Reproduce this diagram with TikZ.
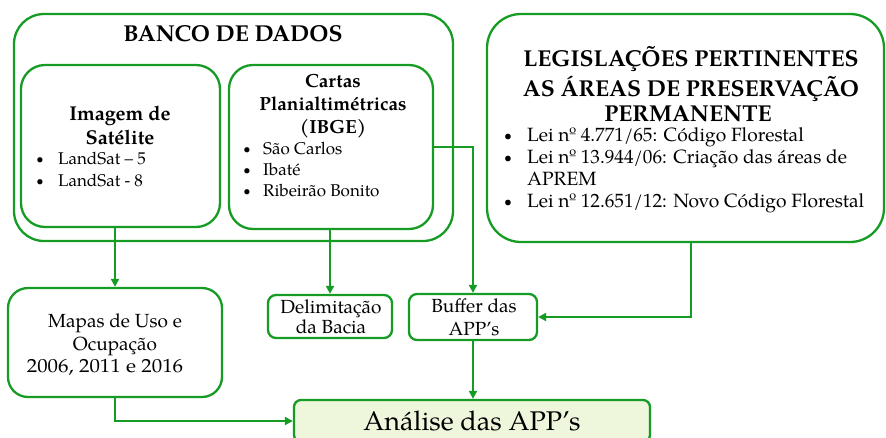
\documentclass[tikz,border=0pt]{standalone}
\usepackage{fontspec}
\usepackage{graphicx}
\setmainfont{TeX Gyre Pagella}
\usetikzlibrary{arrows.meta}
\definecolor{gline}{RGB}{22,156,36}
\definecolor{gfill}{RGB}{238,246,220}
\newcommand\fsz[1]{\fontsize{#1}{#1}\selectfont}
\tikzset{
  box/.style={draw=gline, line width=2.3pt, rectangle, inner sep=0pt},
  arr/.style={draw=gline, line width=2.3pt, -{Triangle[length=8pt,width=8pt]}},
  lbl/.style={anchor=base, inner sep=0pt, text=black},
  lft/.style={anchor=base west, inner sep=0pt, text=black},
  bul/.style={anchor=base, inner sep=0pt, text=black},
}
\begin{document}
\begin{tikzpicture}[x=1pt,y=1pt]
\useasboundingbox (0,0) rectangle (886,-437);
\clip (0,0) rectangle (886,-437);
% boxes
\node[box, rounded corners=30pt, minimum width=439pt, minimum height=227pt] (banco) at (233.5,-127.5) {};
\node[box, rounded corners=24pt, minimum width=199pt, minimum height=162pt] (img) at (120.5,-146) {};
\node[box, rounded corners=24pt, minimum width=204pt, minimum height=164pt] (cartas) at (331,-147) {};
\node[box, rounded corners=34pt, minimum width=397pt, minimum height=228pt] (leg) at (685.5,-128) {};
\node[box, rounded corners=20pt, minimum width=214pt, minimum height=109pt] (mapas) at (115,-342.5) {};
\node[box, rounded corners=8pt, minimum width=124pt, minimum height=43pt] (delim) at (330,-316.5) {};
\node[box, rounded corners=8pt, minimum width=128pt, minimum height=46pt] (buffer) at (473,-317) {};
\node[box, fill=gfill, rounded corners=7pt, minimum width=356pt, minimum height=42pt] (analise) at (472,-421) {};
% texts
\node[lbl, font=\fsz{23}\bfseries] (tbanco) at (233,-41) {BANCO DE DADOS};
\node[lbl, font=\fsz{20}\bfseries] (timg1) at (120,-120) {Imagem de};
\node[lbl, font=\fsz{20}\bfseries] (timg2) at (120,-144) {Satélite};
\node[bul, font=\fsz{13}] (bimg1) at (40,-163) {•};
\node[lft, font=\fsz{17}] (limg1) at (58,-164) {LandSat – 5};
\node[bul, font=\fsz{13}] (bimg2) at (40,-185) {•};
\node[lft, font=\fsz{17}] (limg2) at (58,-186) {LandSat - 8};
\node[lbl, font=\fsz{19}\bfseries] (tc1) at (333,-87) {Cartas};
\node[lbl, font=\fsz{19}\bfseries] (tc2) at (333,-110) {Planialtimétricas};
\node[lbl, font=\fsz{19}\bfseries] (tc3) at (333,-133) {(IBGE)};
\node[bul, font=\fsz{13}] (bc1) at (247,-153) {•};
\node[lft, font=\fsz{17}] (lc1) at (263,-154) {São Carlos};
\node[bul, font=\fsz{13}] (bc2) at (247,-174) {•};
\node[lft, font=\fsz{17}] (lc2) at (263,-175) {Ibaté};
\node[bul, font=\fsz{13}] (bc3) at (247,-195) {•};
\node[lft, font=\fsz{17}] (lc3) at (263,-196) {Ribeirão Bonito};
\node[lbl, font=\fsz{23}\bfseries] (tl1) at (691,-66.5) {LEGISLAÇÕES PERTINENTES};
\node[lbl, font=\fsz{23}\bfseries] (tl2) at (691,-96.5) {AS ÁREAS DE PRESERVAÇÃO};
\node[lbl, font=\fsz{23}\bfseries] (tl3) at (688,-121) {PERMANENTE};
\node[bul, font=\fsz{14}] (bl1) at (508,-140) {•};
\node[lft, font=\fsz{19.2}] (ll1) at (527,-141) {Lei nº 4.771/65: Código Florestal};
\node[bul, font=\fsz{14}] (bl2) at (508,-162) {•};
\node[lft, font=\fsz{19.2}] (ll2) at (527,-163) {Lei nº 13.944/06: Criação das áreas de};
\node[lft, font=\fsz{19.2}] (ll2b) at (527,-185) {APREM};
\node[bul, font=\fsz{14}] (bl3) at (508,-206) {•};
\node[lft, font=\fsz{19.2}] (ll3) at (527,-207) {Lei nº 12.651/12: Novo Código Florestal};
\node[lbl, font=\fsz{19}] (tm1) at (115,-327) {Mapas de Uso e};
\node[lbl, font=\fsz{19}] (tm2) at (115,-350) {Ocupação};
\node[lbl, font=\fsz{19}] (tm3) at (105,-372) {\scalebox{1.1}[1]{2006, 2011 e 2016}};
\node[lbl, font=\fsz{19}] (td1) at (331,-313) {Delimitação};
\node[lbl, font=\fsz{19}] (td2) at (331,-333.5) {da Bacia};
\node[lbl, font=\fsz{19}] (tb1) at (474,-312) {Buffer das};
\node[lbl, font=\fsz{19}] (tb2) at (474,-335) {APP’s};
\node[lbl, font=\fsz{27}] (ta) at (472,-430) {Análise das APP’s};
% connectors
\draw[arr] (mapas.north |- img.south) -- (mapas.north);
\draw[arr] (delim.north |- cartas.south) -- (delim.north);
\draw[arr] (cartas.east) -| (buffer.north);
\draw[arr] ([xshift=5.5pt]leg.south) |- (buffer.east);
\draw[arr] (buffer.south) -- (buffer.south |- analise.north);
\draw[arr] (mapas.south) |- (analise.west);
\end{tikzpicture}
\end{document}
